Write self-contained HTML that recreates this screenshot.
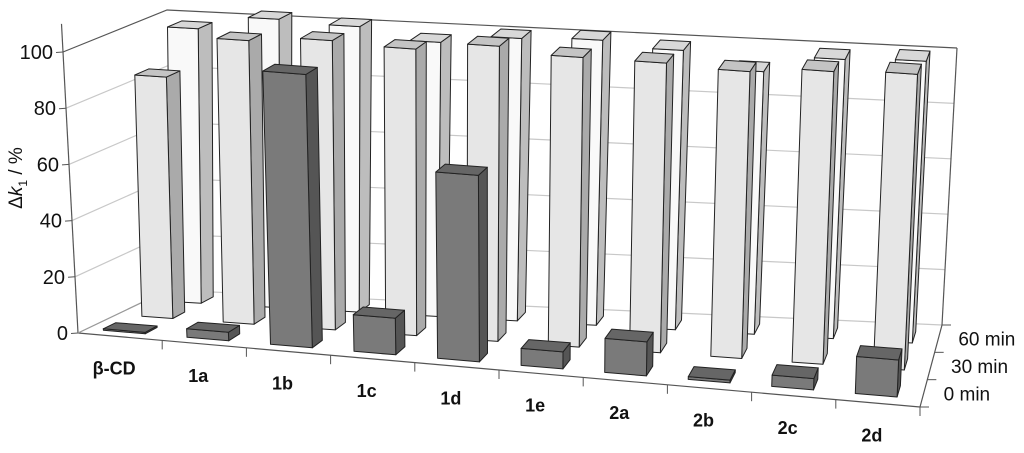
<!DOCTYPE html>
<html><head><meta charset="utf-8"><style>
html,body{margin:0;padding:0;background:#fff;}
svg{display:block;font-family:"Liberation Sans",Arial,sans-serif;}
</style></head><body>
<svg id="chart" width="1024" height="453" viewBox="0 0 1024 453">
<g id="grid"></g>
<g id="axes"></g>
<g id="bars"></g>
<g id="labels"></g>
<text transform="translate(22,178) rotate(-90)" text-anchor="middle" font-size="19" fill="#111">Δ<tspan font-style="italic">k</tspan><tspan font-size="12" dy="5">1</tspan><tspan dy="-5"> / %</tspan></text>
</svg>
<script>
const categories = ["β-CD","1a","1b","1c","1d","1e","2a","2b","2c","2d"];
const seriesNames = ["0 min","30 min","60 min"];
const values0 = [0,3,97,13,66,6,12,1,4,13];
const values30 = [86,101,103,102,105,103,103,102,104,105];
const values60 = [98,103,102,98,101,102,100,94,100,101];
const yTicks = [0,20,40,60,80,100];

const NS="http://www.w3.org/2000/svg";
const FL=[78,333],FR=[920,407],BL=[168,290],BR=[942,325];
const UFL=[-15,-281],UFR=[12,-285],UBL=[-1,-280],UBR=[15,-277];
function bl(a,b,c,d,u,v){return [ (a[0]*(1-u)+b[0]*u)*(1-v)+(c[0]*(1-u)+d[0]*u)*v, (a[1]*(1-u)+b[1]*u)*(1-v)+(c[1]*(1-u)+d[1]*u)*v ];}
function P(u,d,h){const f=bl(FL,FR,BL,BR,u,d),up=bl(UFL,UFR,UBL,UBR,u,d);return [f[0]+up[0]*h/100,f[1]+up[1]*h/100];}
function mk(tag,attrs,parent){const e=document.createElementNS(NS,tag);for(const k in attrs)e.setAttribute(k,attrs[k]);parent.appendChild(e);return e;}
function pts(a){return a.map(p=>p[0].toFixed(1)+","+p[1].toFixed(1)).join(" ");}
const grid=document.getElementById('grid'),axes=document.getElementById('axes'),bars=document.getElementById('bars'),labels=document.getElementById('labels');

yTicks.forEach(t=>{
  const a=P(0,0,t),b=P(0,1,t),c=P(1,1,t);
  const g=mk('polyline',{points:pts([a,b,c]),fill:'none',stroke:t===100?'#555':'#c8c8c8','stroke-width':1.2},grid);
  
  
  const tk=mk('line',{x1:a[0]-7,y1:a[1]+0.5,x2:a[0],y2:a[1],stroke:'#555'},axes);
  
  
  const tx=mk('text',{x:a[0]-10,y:a[1]+7,'text-anchor':'end','font-size':20,fill:'#111'},labels);
  tx.textContent=t;
  
  
});
[[P(0,0,0),P(0,0,110)],[P(0,0,0),P(1,0,0)],[P(1,0,0),P(1,1,0)],[P(1,1,0),P(1,1,100)],[P(0,0,0),P(0,1,0)]].forEach((s,i)=>{
  const l=mk('line',{x1:s[0][0],y1:s[0][1],x2:s[1][0],y2:s[1][1],stroke:i===4?'#999':'#555','stroke-width':1.2},axes);
  
  
});
for(let i=1;i<=categories.length;i++){
  const a=P(i/categories.length,0,0);
  const l=mk('line',{x1:a[0],y1:a[1],x2:a[0],y2:a[1]+9,stroke:'#555'},axes);
  
  
}
for(let k=0;k<=3;k++){
  const a=P(1,k/3,0);
  const l=mk('line',{x1:a[0],y1:a[1],x2:a[0]+9,y2:a[1],stroke:'#555'},axes);
  
  
}
seriesNames.forEach((s,k)=>{
  const a=P(1,(k+0.5)/3,0);
  const t=mk('text',{x:a[0]+20,y:a[1]+7,'font-size':19,fill:'#111'},labels);
  t.textContent=s;
  
  
});
categories.forEach((c,i)=>{
  const a=P((i+0.5)/categories.length,0,0);
  const t=mk('text',{x:a[0]-6,y:a[1]+38,'text-anchor':'middle','font-size':18,'font-weight':'bold',fill:'#111'},labels);
  t.textContent=c;
  
  
});
const series=[values0,values30,values60];
const cols=[{f:'#7a7a7a',t:'#666',s:'#555'},{f:'#e6e6e6',t:'#c4c4c4',s:'#aaa'},{f:'#f9f9f9',t:'#d8d8d8',s:'#bdbdbd'}];
const widths=[0.5,0.38,0.38];
const offs=[-0.05,0,0];
const n=categories.length;
for(let k=2;k>=0;k--){
  series[k].forEach((v,i)=>{
    const uc=(i+0.5+offs[k])/n,hw=widths[k]/2/n;
    const u0=uc-hw,u1=uc+hw,dc=(k+0.5)/3,d0=dc-0.07,d1=dc+0.07,h=Math.max(v,0.5);
    const g=mk('g',{},bars);
    
    
    const st={stroke:'#222','stroke-width':1,'stroke-linejoin':'round'};
    mk('polygon',Object.assign({points:pts([P(u1,d0,0),P(u1,d1,0),P(u1,d1,h),P(u1,d0,h)]),fill:cols[k].s},st),g);
    mk('polygon',Object.assign({points:pts([P(u0,d0,0),P(u1,d0,0),P(u1,d0,h),P(u0,d0,h)]),fill:cols[k].f},st),g);
    mk('polygon',Object.assign({points:pts([P(u0,d0,h),P(u1,d0,h),P(u1,d1,h),P(u0,d1,h)]),fill:cols[k].t},st),g);
  });
}
</script>
</body></html>
